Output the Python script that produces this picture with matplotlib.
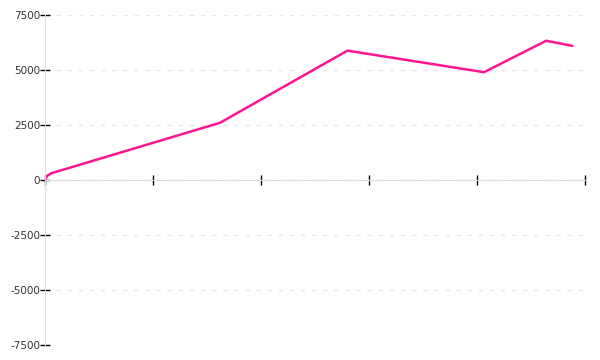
import matplotlib
matplotlib.use('Agg')
import matplotlib.pyplot as plt

plt.rcParams['axes.unicode_minus'] = False

# data (x in arbitrary units 0..100)
x_vals = [0, 0.4, 1.2, 32.4, 56.0, 81.3, 92.8, 97.6]
y_vals = [0, 190, 310, 2600, 5880, 4900, 6330, 6100]
y_ticks = [-7500, -5000, -2500, 0, 2500, 5000, 7500]
x_ticks = [0, 20, 40, 60, 80, 100]

fig = plt.figure(figsize=(6, 3.6), dpi=100)
ax = fig.add_axes([0.075, 0.0417, 0.9, 0.9166])

ax.plot(x_vals, y_vals, color='#ff1493', linewidth=1.8, solid_joinstyle='miter')

ax.set_xlim(0, 100)
ax.set_ylim(-7500, 7500)
ax.set_yticks(y_ticks)
ax.set_xticks(x_ticks)
ax.set_xticklabels([])

for s in ['top', 'right']:
    ax.spines[s].set_visible(False)
ax.spines['bottom'].set_position(('data', 0))
ax.spines['bottom'].set_color('#dddddd')
ax.spines['left'].set_color('#dddddd')

ax.tick_params(axis='y', direction='inout', length=7, width=1, color='black',
               labelsize=7.5, labelcolor='#333333', pad=0)
ax.tick_params(axis='x', direction='inout', length=7.5, width=1, color='black')

ax.yaxis.grid(True, color='#e6e6e6', linestyle=(0, (3, 5)), linewidth=1)
ax.set_axisbelow(True)

plt.savefig('out.png', dpi=100)
